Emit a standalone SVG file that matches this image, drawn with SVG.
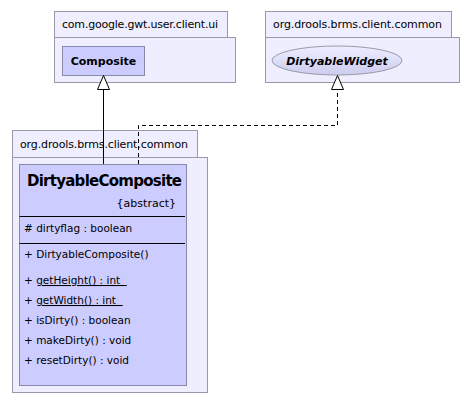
<svg xmlns="http://www.w3.org/2000/svg" width="473" height="403" viewBox="0 0 473 403">
<defs>
<style>
.pkg{fill:#eeeeff;stroke:#9999aa;stroke-width:1}
.cls{fill:#ccccff;stroke:#8888aa;stroke-width:1}
.t{font-family:"DejaVu Sans",sans-serif;font-size:11px;fill:#000}
.m{font-size:10.5px}
.b{font-weight:bold}
.sep{stroke:#000;stroke-width:1}
.edge{fill:none;stroke:#000;stroke-width:1}
.dash{stroke-dasharray:4,3}
.head{fill:#fff;stroke:#000;stroke-width:1}
</style>
<linearGradient id="eg" x1="0" y1="0" x2="0" y2="1">
<stop offset="0" stop-color="#eeeeff"/>
<stop offset="1" stop-color="#ccccee"/>
</linearGradient>
</defs>
<rect width="473" height="403" fill="#fff"/>
<g id="pkg-gwt">
<rect class="pkg" x="54.5" y="11.5" width="173" height="26"/>
<rect class="pkg" x="54.5" y="37.5" width="181" height="45"/>
<text class="t" x="62" y="28" textLength="156">com.google.gwt.user.client.ui</text>
</g>
<g id="Composite">
<rect class="cls" x="62.5" y="46.5" width="82" height="29"/>
<text class="t b" x="103.5" y="65" text-anchor="middle">Composite</text>
</g>
<g id="pkg-common-1">
<rect class="pkg" x="265.5" y="11.5" width="186" height="26"/>
<rect class="pkg" x="265.5" y="37.5" width="194" height="45"/>
<text class="t" x="273" y="28" textLength="169">org.drools.brms.client.common</text>
</g>
<g id="DirtyableWidget">
<ellipse cx="337" cy="60.5" rx="65" ry="14.5" fill="url(#eg)" stroke="#9999aa"/>
<text class="t b" x="337" y="65" text-anchor="middle" font-style="italic">DirtyableWidget</text>
</g>
<g id="pkg-common-2">
<rect class="pkg" x="12.5" y="130.5" width="185" height="27"/>
<rect class="pkg" x="12.5" y="157.5" width="195" height="235"/>
<text class="t" x="20" y="148" textLength="168">org.drools.brms.client.common</text>
</g>
<g id="DirtyableComposite">
<rect class="cls" x="19.5" y="164.5" width="167" height="221"/>
<text class="t b" x="27" y="186" style="font-size:15px" textLength="155">DirtyableComposite</text>
<text class="t" x="176" y="207" text-anchor="end">{abstract}</text>
<line class="sep" x1="19.5" y1="216.5" x2="185" y2="216.5"/>
<text class="t m" x="24" y="232"># dirtyflag : boolean</text>
<line class="sep" x1="19.5" y1="243.5" x2="185" y2="243.5"/>
<text class="t m" x="24" y="258">+ DirtyableComposite()</text>
<text class="t m" x="24" y="284">+ <tspan text-decoration="underline">getHeight() : int&#160;&#160;</tspan></text>
<text class="t m" x="24" y="304">+ <tspan text-decoration="underline">getWidth() : int&#160;&#160;</tspan></text>
<text class="t m" x="24" y="324">+ isDirty() : boolean</text>
<text class="t m" x="24" y="344">+ makeDirty() : void</text>
<text class="t m" x="24" y="364">+ resetDirty() : void</text>
</g>
<g id="connectors">
<path class="edge" d="M103.5,164 L103.5,89"/>
<polygon class="head" points="103.5,75.5 109.5,89.5 97.5,89.5"/>
<path class="edge dash" d="M138.5,164 L138.5,125.5 L337.5,125.5 L337.5,89"/>
<polygon class="head" points="337.5,75.5 343.5,89.5 331.5,89.5"/>
</g>
</svg>
